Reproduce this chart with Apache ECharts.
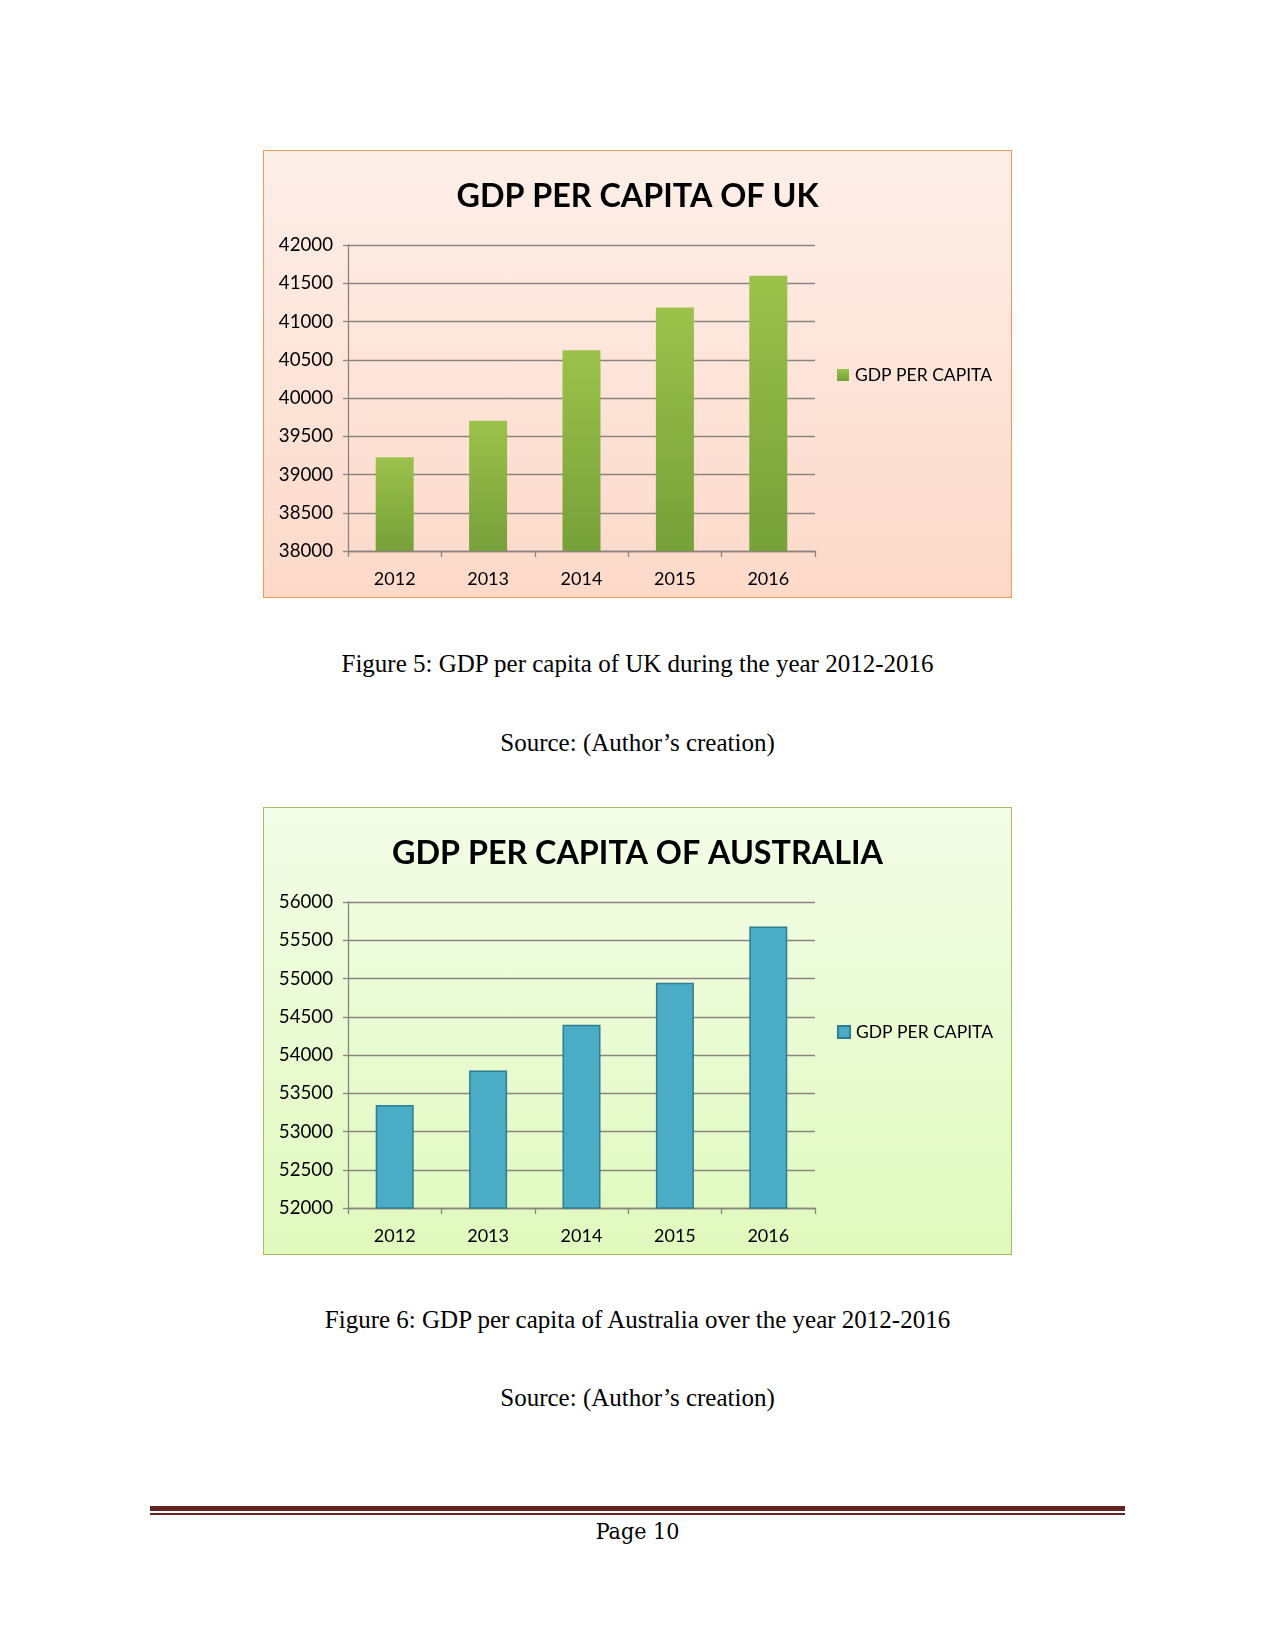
<!DOCTYPE html>
<html>
<head>
<meta charset="utf-8">
<script src="https://cdn.jsdelivr.net/npm/echarts@6/dist/echarts.min.js"></script>
<style>
  body { margin: 0; background: #fff; }
  #page { position: relative; width: 1275px; height: 1650px; }
  .box { position: absolute; left: 263px; width: 747px; height: 446px; }
  #chartUK { top: 150px; border: 1.5px solid #f59a52;
    background: linear-gradient(#fdefe9, #fdd9c9); }
  #chartAU { top: 807px; border: 1.5px solid #a3c063;
    background: linear-gradient(#f3fde8, #e0f9bd); }
  .caption { position: absolute; left: 0; width: 1275px; text-align: center;
    font-family: "Liberation Serif", serif; font-size: 25px; color: #000; }
  .rule { position: absolute; left: 150px; width: 975px; background: #622423; }
  #pageNo { position: absolute; left: 0; width: 1275px; top: 1518px; text-align: center;
    font-family: "DejaVu Serif Condensed", "DejaVu Serif", serif; font-size: 23px; }
</style>
</head>
<body>
<div id="page">
  <div id="chartUK" class="box"></div>
  <div class="caption" style="top:650px">Figure 5: GDP per capita of UK during the year 2012-2016</div>
  <div class="caption" style="top:729px">Source: (Author’s creation)</div>

  <div id="chartAU" class="box"></div>
  <div class="caption" style="top:1306px">Figure 6: GDP per capita of Australia over the year 2012-2016</div>
  <div class="caption" style="top:1384px">Source: (Author’s creation)</div>

  <div class="rule" style="top:1506px;height:5px"></div>
  <div class="rule" style="top:1513px;height:2px"></div>
  <div id="pageNo">Page 10</div>
</div>

<script>
const years = ['2012', '2013', '2014', '2015', '2016']
const seriesName = 'GDP PER CAPITA'
const ukValues = [39224, 39704, 40625, 41183, 41598]
const auValues = [53345, 53799, 54396, 54945, 55680]

const font = 'Lato, "Open Sans", sans-serif'

function makeOption(title, values, min, max, barStyle, legendColor) {
  return {
    animation: false,
    title: {
      text: title,
      left: 'center',
      top: 25,
      textStyle: { fontFamily: font, fontSize: 32.3, fontWeight: 'bold', color: '#000' }
    },
    legend: {
      left: 568,
      top: 210,
      itemWidth: 12,
      itemHeight: 12,
      icon: 'rect',
      itemGap: 6,
      data: [{ name: seriesName, itemStyle: { color: legendColor } }],
      textStyle: { fontFamily: font, fontSize: 17.5, color: '#000', padding: [0, 0, 0, 1] }
    },
    grid: { left: 84, right: 196, top: 94, bottom: 46 },
    xAxis: {
      type: 'category',
      data: years,
      axisLine: { lineStyle: { color: '#8a8480', width: 1.3 } },
      axisTick: { show: true, length: 6, lineStyle: { color: '#8a8480', width: 1.3 } },
      axisLabel: { fontFamily: font, fontSize: 18, color: '#000', margin: 19 }
    },
    yAxis: {
      type: 'value',
      min: min,
      max: max,
      interval: 500,
      axisLine: { show: true, lineStyle: { color: '#8a8480', width: 1.3 } },
      axisTick: { show: true, length: 5, lineStyle: { color: '#8a8480', width: 1.3 } },
      axisLabel: { fontFamily: font, fontSize: 18.7, color: '#000', margin: 15, formatter: v => String(v) },
      splitLine: { lineStyle: { color: '#8a8480', width: 1.4 } }
    },
    series: [{
      name: seriesName,
      type: 'bar',
      data: values,
      barWidth: 38,
      itemStyle: barStyle
    }]
  }
}

const greenGrad = new echarts.graphic.LinearGradient(0, 0, 0, 1, [
  { offset: 0, color: '#9cc24b' },
  { offset: 1, color: '#76a039' }
])
const chartUK = echarts.init(document.getElementById('chartUK'))
chartUK.setOption(makeOption('GDP PER CAPITA OF UK', ukValues, 38000, 42000,
  { color: greenGrad }, greenGrad))

const chartAU = echarts.init(document.getElementById('chartAU'))
chartAU.setOption(makeOption('GDP PER CAPITA OF AUSTRALIA', auValues, 52000, 56000,
  { color: '#4bacc6', borderColor: '#2f7d92', borderWidth: 1.5 }, '#4bacc6'))
</script>
</body>
</html>
